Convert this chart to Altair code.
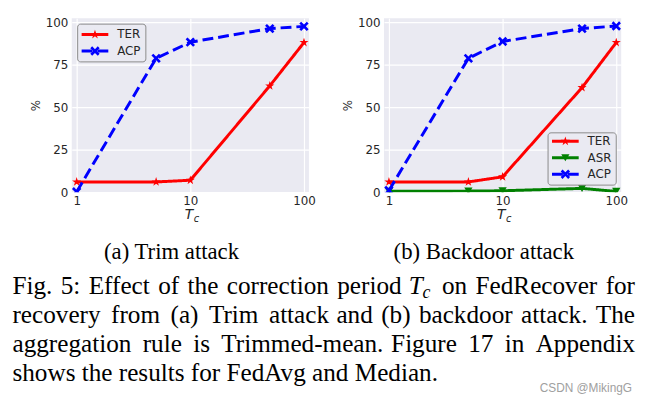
import math
import altair as alt
import pandas as pd

# ---------------- data ----------------
tc = [1, 5, 10, 50, 100]
a_ter = [6.0, 6.0, 7.0, 62.5, 88.0]
a_acp = [0.2, 78.7, 88.2, 96.2, 97.5]
b_ter = [6.0, 6.0, 9.0, 61.5, 88.0]
b_asr = [0.5, 0.6, 0.8, 2.2, 0.4]
b_acp = [1.0, 78.7, 88.6, 96.2, 97.7]

x_ticks = [1, 10, 100]
y_ticks = [0, 25, 50, 75, 100]
sub_captions = ["(a) Trim attack", "(b) Backdoor attack"]
caption_line1 = ["Fig. 5: Effect of the correction period", "T", "c", "on FedRecover for"]
caption_line2 = ["recovery from (a) Trim attack", "and (b) backdoor attack. The"]
caption_line3 = ["aggregation rule is Trimmed-mean.", "Figure 17 in Appendix"]
caption_line4 = ["shows the results for FedAvg and Median."]
watermark = "CSDN @MikingG"

# ---------------- style ----------------
RED, GREEN, BLUE = "#FF0000", "#008000", "#0000FF"
BG = "#EAEAF2"
INK = "#262626"
SANS = "DejaVu Sans"
SERIF = "Liberation Serif"
W, H = 240, 176
CAP = 25.5  # figure caption font size


def star_path():
    pts = []
    for k in range(10):
        r = 1.0 if k % 2 == 0 else 0.382
        a = math.radians(k * 36)
        pts.append((r * math.sin(a), -r * math.cos(a)))
    return "M" + "L".join(f"{x:.3f},{y:.3f}" for x, y in pts) + "Z"


STAR = star_path()
XMARK = "M-1,-0.6L-0.6,-1L0,-0.4L0.6,-1L1,-0.6L0.4,0L1,0.6L0.6,1L0,0.4L-0.6,1L-1,0.6L-0.4,0Z"

style = {
    "TER": dict(color=RED, dash=[1, 0], shape=STAR, size=95),
    "ASR": dict(color=GREEN, dash=[1, 0], shape="triangle-down", size=70),
    "ACP": dict(color=BLUE, dash=[11, 5], shape=XMARK, size=90),
}

x_enc = alt.X(
    "tc:Q",
    scale=alt.Scale(type="log", domain=[0.905, 110.5], nice=False),
    axis=alt.Axis(values=x_ticks, format="d", title=None, labelPadding=4,
                  labelFont=SANS, labelFontSize=12, labelColor=INK,
                  domain=False, ticks=False, grid=True, gridColor="white", gridWidth=1.2),
)
y_enc = alt.Y(
    "v:Q",
    scale=alt.Scale(domain=[0, 102.3], nice=False, zero=False),
    axis=alt.Axis(values=y_ticks, title="%", titlePadding=3, labelPadding=4,
                  titleFont=SANS, titleFontSize=12, titleFontWeight="normal", titleColor=INK,
                  labelFont=SANS, labelFontSize=12, labelColor=INK,
                  domain=False, ticks=False, grid=True, gridColor="white", gridWidth=1.2),
)


def txt(text, x, y, align="left", size=23, font=SERIF, style_="normal", color="black", baseline="alphabetic"):
    return alt.Chart(pd.DataFrame({"t": [text]})).mark_text(
        align=align, baseline=baseline, font=font, fontSize=size, fontStyle=style_, color=color
    ).encode(text="t:N", x=alt.value(x), y=alt.value(y))


def panel(series, caption, leg):
    layers = []
    for name, vals in series:
        s = style[name]
        df = pd.DataFrame({"tc": tc, "v": vals})
        layers.append(alt.Chart(df).mark_line(color=s["color"], strokeWidth=3, strokeDash=s["dash"], clip=True)
                      .encode(x=x_enc, y=y_enc))
        layers.append(alt.Chart(df).mark_point(shape=s["shape"], size=s["size"], filled=True, opacity=1,
                                               color=s["color"], clip=True)
                      .encode(x=x_enc, y=y_enc))
    # legend
    bx0, by0, bx1, row0, step = leg
    n = len(series)
    by1 = row0 + step * (n - 1) + 11
    layers.append(alt.Chart(pd.DataFrame({"k": [0]})).mark_rect(
        fill=BG, stroke="#8a8a8a", strokeWidth=1, cornerRadius=3)
        .encode(x=alt.value(bx0), x2=alt.value(bx1), y=alt.value(by0), y2=alt.value(by1)))
    for i, (name, _) in enumerate(series):
        s = style[name]
        yy = row0 + i * step
        d = pd.DataFrame({"s": [name]})
        layers.append(alt.Chart(d).mark_rule(color=s["color"], strokeWidth=3, strokeDash=s["dash"])
                      .encode(x=alt.value(bx0 + 4), x2=alt.value(bx0 + 31), y=alt.value(yy)))
        layers.append(alt.Chart(d).mark_point(shape=s["shape"], size=s["size"], filled=True, opacity=1,
                                              color=s["color"])
                      .encode(x=alt.value(bx0 + 17.5), y=alt.value(yy)))
        layers.append(alt.Chart(d).mark_text(align="left", baseline="middle", font=SANS, fontSize=12, color=INK)
                      .encode(text="s:N", x=alt.value(bx0 + 40), y=alt.value(yy)))
    # x axis title T_c
    layers.append(txt("T", 123, 203, align="right", size=14, font=SANS, style_="italic", color=INK))
    layers.append(txt("c", 123.5, 206, align="left", size=10, font=SANS, style_="italic", color=INK))
    # sub caption
    layers.append(txt(caption, 101, 244, align="center"))
    return layers


pa_layers = panel([("TER", a_ter), ("ACP", a_acp)], sub_captions[0], (6, 6, 75, 16.5, 16.7))
pb_layers = panel([("TER", b_ter), ("ASR", b_asr), ("ACP", b_acp)], sub_captions[1], (166, 116, 235, 124.5, 16.7))


def justify(s, gap):
    # widen inter-word spaces (the reference caption is justified)
    return s.replace(" ", " " + gap)


HAIR, THIN = "\u200a", "\u2009"
L, R = -60, 570
cap = [
    txt(justify(caption_line1[0], HAIR), L, 279, size=CAP),
    txt(caption_line1[1], 341, 279, size=CAP, style_="italic"),
    txt(caption_line1[2], 355, 283.5, size=18, style_="italic"),
    txt(justify(caption_line1[3], HAIR), R, 279, align="right", size=CAP),
    txt(justify(caption_line2[0], HAIR + HAIR), L, 308.5, size=CAP),
    txt(justify(caption_line2[1], HAIR), R, 308.5, align="right", size=CAP),
    txt(justify(caption_line3[0], THIN), L, 338, size=CAP),
    txt(justify(caption_line3[1], THIN), R, 338, align="right", size=CAP),
    txt(caption_line4[0], L, 367.5, size=CAP),
    txt(watermark, 567, 378, align="right", size=12, font="Liberation Sans", color="#a0a0a0"),
]

pa = alt.layer(*pa_layers, *cap).properties(width=W, height=H)
pb = alt.layer(*pb_layers).properties(width=W, height=H)

chart = (
    alt.hconcat(pa, pb, spacing=76, bounds="flush")
    .properties(padding={"left": 4.5, "top": 5, "right": 2, "bottom": 2}, background="white")
    .configure_view(fill=BG, stroke=None)
)

chart.save("out.html", embed_options={"renderer": "svg", "actions": False})
